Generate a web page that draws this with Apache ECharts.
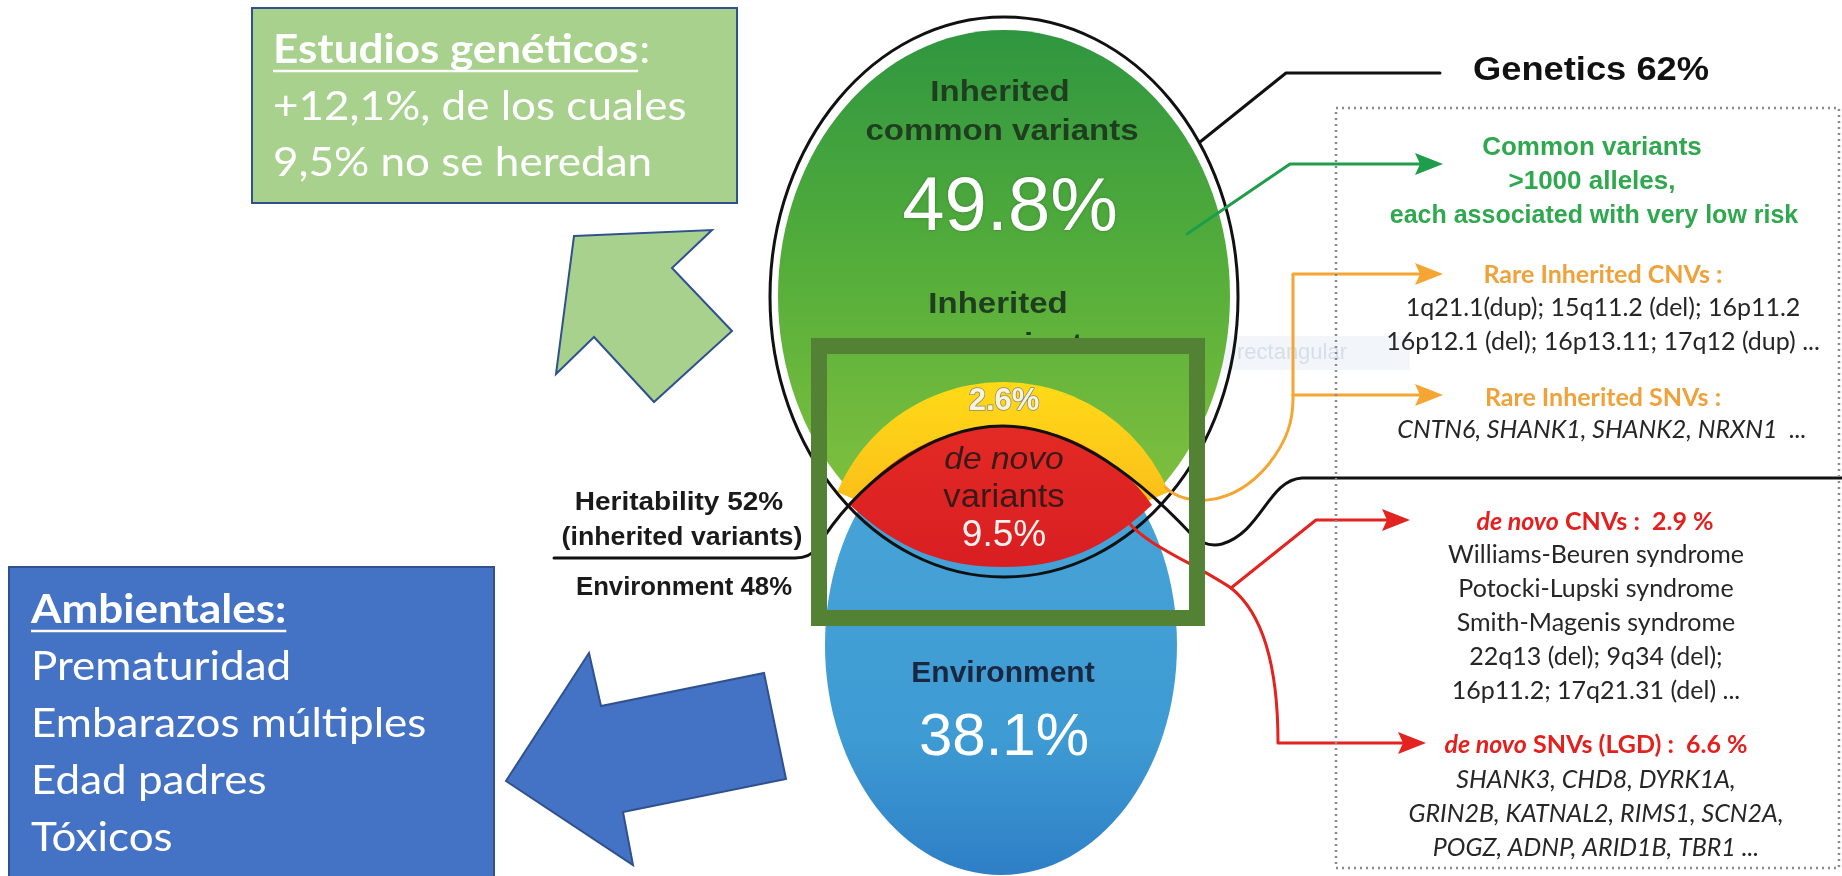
<!DOCTYPE html>
<html><head><meta charset="utf-8">
<script src="https://cdn.jsdelivr.net/npm/echarts@6/dist/echarts.min.js"></script>
<style>html,body{margin:0;padding:0;background:#fff}#c{width:1842px;height:876px}</style>
</head><body><div id="c"></div>
<script>
// ---- data ----
const segmentTitles = ['Inherited', 'common variants', 'Inherited', 'rare variants', 'de novo', 'variants', 'Environment'];
const segmentValues = [49.8, 2.6, 9.5, 38.1];           // common, rare, de novo, environment
const summaryLabels = ['Genetics', 'Heritability', 'Environment'];
const summaryValues = [62, 52, 48];
const deNovoValues = [2.9, 6.6];                          // CNVs, SNVs (LGD)
const geneticBox = ['Estudios genéticos', ':', '+12,1%, de los cuales', '9,5% no se heredan'];
const envBox = ['Ambientales:', 'Prematuridad', 'Embarazos múltiples', 'Edad padres', 'Tóxicos'];
const commonLines = ['Common variants', '>1000 alleles,', 'each associated with very low risk'];
const rareCnvLines = ['Rare Inherited CNVs :', '1q21.1(dup); 15q11.2 (del); 16p11.2', '16p12.1 (del); 16p13.11; 17q12 (dup) ...'];
const rareSnvLines = ['Rare Inherited SNVs :', 'CNTN6, SHANK1, SHANK2, NRXN1  ...'];
const denovoCnvLines = ['Williams-Beuren syndrome', 'Potocki-Lupski syndrome', 'Smith-Magenis syndrome', '22q13 (del); 9q34 (del);', '16p11.2; 17q21.31 (del) ...'];
const denovoSnvLines = ['SHANK3, CHD8, DYRK1A,', 'GRIN2B, KATNAL2, RIMS1, SCN2A,', 'POGZ, ADNP, ARID1B, TBR1 ...'];

const pct = v => v.toFixed(1) + '%';

// custom shape drawing simple "M L C Q Z" command strings
echarts.graphic.registerShape('cmdPath', echarts.graphic.extendShape({
  type: 'cmdPath',
  shape: {d: ''},
  buildPath: function (ctx, shape) {
    const t = shape.d.trim().split(/[\s,]+/);
    let i = 0;
    while (i < t.length) {
      const c = t[i++];
      const n = () => parseFloat(t[i++]);
      if (c === 'M') ctx.moveTo(n(), n());
      else if (c === 'L') ctx.lineTo(n(), n());
      else if (c === 'C') ctx.bezierCurveTo(n(), n(), n(), n(), n(), n());
      else if (c === 'Q') ctx.quadraticCurveTo(n(), n(), n(), n());
      else if (c === 'Z') ctx.closePath();
    }
  }
}));

const chart = echarts.init(document.getElementById('c'), null, {renderer: 'canvas'});
const G = echarts.graphic;
const els = [];
const mctx = document.createElement('canvas').getContext('2d');
function tw(text, font) { mctx.font = font; return mctx.measureText(text).width; }
function txt(x, y, text, font, fill, align, extra) {
  const e = {type: 'text', x: x, y: y, style: Object.assign({text: text, font: font, fill: fill,
    textAlign: align || 'center', textVerticalAlign: 'middle', align: align || 'center', verticalAlign: 'middle'}, (extra && extra.style) || {})};
  if (extra && extra.scaleX) e.scaleX = extra.scaleX;
  els.push(e);
}
function path(d, stroke, lw, fill) {
  els.push({type: 'cmdPath', shape: {d: d}, style: {stroke: stroke, lineWidth: lw, fill: fill || null, lineJoin: 'round', lineCap: 'round'}});
}
function head(x, y, color, len, half) {
  els.push({type: 'polygon', shape: {points: [[x, y], [x - len, y - half], [x - len + 5, y], [x - len, y + half]]}, style: {fill: color}});
}

// ---- left boxes & arrows ----
const BX = 1.1;
els.push({type: 'rect', shape: {x: 252, y: 8, width: 485, height: 195}, style: {fill: '#A9D18E', stroke: '#2F528F', lineWidth: 2}});
const w0 = tw(geneticBox[0], 'bold 40px Lato') * BX;
txt(273, 50, geneticBox[0], 'bold 40px Lato', '#fff', 'left', {scaleX: BX});
txt(273 + w0 + 1, 50, geneticBox[1], '40px Lato', '#fff', 'left', {scaleX: BX});
els.push({type: 'line', shape: {x1: 273, y1: 71, x2: 273 + w0, y2: 71}, style: {stroke: '#fff', lineWidth: 2.5}});
txt(273, 107, geneticBox[2], '40px Lato', '#fff', 'left', {scaleX: BX});
txt(273, 163, geneticBox[3], '40px Lato', '#fff', 'left', {scaleX: BX});
els.push({type: 'polygon', shape: {points: [[574,236],[712,230],[672,268],[732,331],[654,402],[594,337],[556,374]]}, style: {fill: '#A9D18E', stroke: '#2F528F', lineWidth: 2}});

els.push({type: 'rect', shape: {x: 9, y: 567, width: 485, height: 320}, style: {fill: '#4472C4', stroke: '#2F528F', lineWidth: 2}});
const w1 = tw(envBox[0], 'bold 40px Lato') * BX;
txt(31, 610, envBox[0], 'bold 40px Lato', '#fff', 'left', {scaleX: BX});
els.push({type: 'line', shape: {x1: 31, y1: 631, x2: 31 + w1, y2: 631}, style: {stroke: '#fff', lineWidth: 2.5}});
for (let i = 1; i < envBox.length; i++) txt(31, 610 + i * 57, envBox[i], '40px Lato', '#fff', 'left', {scaleX: BX});
els.push({type: 'polygon', shape: {points: [[589,653],[601,706],[764,673],[786,779],[623,812],[633,865],[506,781]]}, style: {fill: '#4472C4', stroke: '#2F528F', lineWidth: 2}});

// faint artifact band
els.push({type: 'rect', shape: {x: 1140, y: 336, width: 270, height: 34}, style: {fill: '#F2F6FA'}});
txt(1292, 353, 'rectangular', '22px "Liberation Sans"', '#D6DEE6');

// ---- egg diagram ----
els.push({type: 'ellipse', shape: {cx: 1001, cy: 645, rx: 176, ry: 230},
  style: {fill: new G.LinearGradient(0, 0, 0, 1, [{offset: 0, color: '#4AA6D8'}, {offset: 0.7, color: '#3E9BD3'}, {offset: 1, color: '#2E7FC6'}])}});
els.push({type: 'ellipse', shape: {cx: 1004, cy: 296, rx: 226, ry: 266},
  style: {fill: new G.LinearGradient(0, 0, 0, 1, [{offset: 0, color: '#2F9640'}, {offset: 0.45, color: '#55AE3A'}, {offset: 1, color: '#8CC540'}])}});
const a = 0.40;
els.push({type: 'sector', shape: {cx: 1003, cy: 562, r0: 0, r: 180, startAngle: Math.PI + a, endAngle: 2 * Math.PI - a, clockwise: true},
  style: {fill: new G.LinearGradient(0, 0, 0, 1, [{offset: 0, color: '#FFDA17'}, {offset: 0.6, color: '#FBC21A'}, {offset: 1, color: '#F29E1F'}])}});
path('M 850 505 C 888 456 944 426 1003 426 C 1062 426 1118 456 1152 505 C 1104 550 1060 567 1003 567 C 946 567 898 550 850 505 Z', null, 0,
  new G.LinearGradient(0, 0, 0, 1, [{offset: 0, color: '#E42A24'}, {offset: 1, color: '#D81E22'}]));
// genetics outline
els.push({type: 'ellipse', shape: {cx: 1004, cy: 297, rx: 234, ry: 280}, style: {fill: null, stroke: '#111', lineWidth: 3}});
// heritability separator + de novo bracket
path('M 554 558 L 795 558 Q 810 558 817 548 C 852 490 925 426 1003 426 C 1080 426 1150 490 1192 535 Q 1206 548 1222 544 C 1262 532 1268 480 1302 478 L 1842 478', '#111', 3);
// genetics bracket
path('M 1200 142 L 1286 73 L 1440 73', '#111', 3);
// common variants arrow
path('M 1187 234 L 1290 164 L 1420 164', '#1E9E4A', 3);
head(1443, 164, '#1E9E4A', 28, 11);
// rare inherited arrows
path('M 1165 487 C 1185 507 1232 508 1268 465 C 1288 440 1293 420 1293 398 L 1293 274 L 1420 274', '#F5A632', 3);
path('M 1293 395 L 1420 395', '#F5A632', 3);
head(1443, 274, '#F5A632', 28, 11);
head(1443, 395, '#F5A632', 28, 11);
// de novo arrows
path('M 1128 522 C 1148 546 1192 562 1231 588 C 1265 615 1278 670 1278 743 L 1402 743', '#E2231F', 3);
path('M 1231 588 L 1316 520 L 1388 520', '#E2231F', 3);
head(1410, 520, '#E2231F', 28, 11);
head(1426, 743, '#E2231F', 28, 11);

// dotted info box
els.push({type: 'rect', shape: {x: 1336, y: 108, width: 503, height: 760}, style: {fill: null, stroke: '#8a8a8a', lineWidth: 2.5, lineDash: [2, 4]}});

// ---- egg texts ----
const darkG = '#1F3D1F';
txt(1000, 93, segmentTitles[0], 'bold 30px "Liberation Sans"', darkG, 'center', {scaleX: 1.1});
txt(1002, 132, segmentTitles[1], 'bold 30px "Liberation Sans"', darkG, 'center', {scaleX: 1.1});
txt(1010, 209, pct(segmentValues[0]), '76px "Liberation Sans"', '#fff', 'center', {style: {textShadowColor: 'rgba(0,0,0,0.25)', textShadowBlur: 3}});
txt(998, 305, segmentTitles[2], 'bold 30px "Liberation Sans"', darkG, 'center', {scaleX: 1.1});
txt(1002, 346, segmentTitles[3], 'bold 30px "Liberation Sans"', darkG, 'center', {scaleX: 1.1});
txt(1004, 401, pct(segmentValues[1]), 'bold 31px "Liberation Sans"', '#F8F3DC', 'center', {style: {stroke: '#8C8A6E', lineWidth: 1.5}});
txt(1004, 460, segmentTitles[4], 'italic 32px "Liberation Sans"', '#3A1A18', 'center', {scaleX: 1.05});
txt(1004, 498, segmentTitles[5], '33px "Liberation Sans"', '#3A1A18', 'center', {scaleX: 1.05});
txt(1004, 536, pct(segmentValues[2]), '37px "Liberation Sans"', '#F7F2EE');
txt(1003, 674, segmentTitles[6], 'bold 30px "Liberation Sans"', '#1A2740', 'center');
txt(1004, 738, pct(segmentValues[3]), '60px "Liberation Sans"', '#fff');

// highlight box
els.push({type: 'rect', shape: {x: 819, y: 346, width: 378, height: 272}, style: {fill: null, stroke: '#548235', lineWidth: 16}});

// ---- left summary labels ----
txt(679, 503, summaryLabels[1] + ' ' + summaryValues[1] + '%', 'bold 25px "Liberation Sans"', '#1a1a1a', 'center', {scaleX: 1.12});
txt(682, 538, '(inherited variants)', 'bold 25px "Liberation Sans"', '#1a1a1a', 'center', {scaleX: 1.07});
txt(684, 588, summaryLabels[2] + ' ' + summaryValues[2] + '%', 'bold 25px "Liberation Sans"', '#1a1a1a', 'center', {scaleX: 1.03});
txt(1591, 71, summaryLabels[0] + ' ' + summaryValues[0] + '%', 'bold 33px "Liberation Sans"', '#111', 'center', {scaleX: 1.1});

// ---- right side texts ----
const green = '#2FA84F', orange = '#F0A23A', red = '#E3201E', dark = '#262626';
txt(1592, 148, commonLines[0], 'bold 26px "Liberation Sans"', green);
txt(1592, 182, commonLines[1], 'bold 26px "Liberation Sans"', green);
txt(1594, 216, commonLines[2], 'bold 25px "Liberation Sans"', green);
txt(1603, 275, rareCnvLines[0], 'bold 25px Lato', orange);
txt(1603, 308, rareCnvLines[1], '25px Lato', dark);
txt(1603, 342, rareCnvLines[2], '25px Lato', dark);
txt(1603, 398, rareSnvLines[0], 'bold 25px Lato', orange);
txt(1602, 430, rareSnvLines[1], 'italic 25px Lato', dark);
els.push({type: 'text', x: 1595, y: 522, style: {text: '{i|de novo} CNVs :  ' + deNovoValues[0].toFixed(1) + ' %', font: 'bold 25px Lato', fill: red,
  textAlign: 'center', textVerticalAlign: 'middle', align: 'center', verticalAlign: 'middle',
  rich: {i: {font: 'italic bold 25px Lato', fill: red}}}});
for (let i = 0; i < denovoCnvLines.length; i++) txt(1596, 555 + i * 34, denovoCnvLines[i], '25px Lato', dark);
els.push({type: 'text', x: 1596, y: 745, style: {text: '{i|de novo} SNVs (LGD) :  ' + deNovoValues[1].toFixed(1) + ' %', font: 'bold 25px Lato', fill: red,
  textAlign: 'center', textVerticalAlign: 'middle', align: 'center', verticalAlign: 'middle',
  rich: {i: {font: 'italic bold 25px Lato', fill: red}}}});
for (let i = 0; i < denovoSnvLines.length; i++) txt(1596, 780 + i * 34, denovoSnvLines[i], 'italic 25px Lato', dark);

chart.setOption({animation: false, graphic: {elements: els}});
</script></body></html>
